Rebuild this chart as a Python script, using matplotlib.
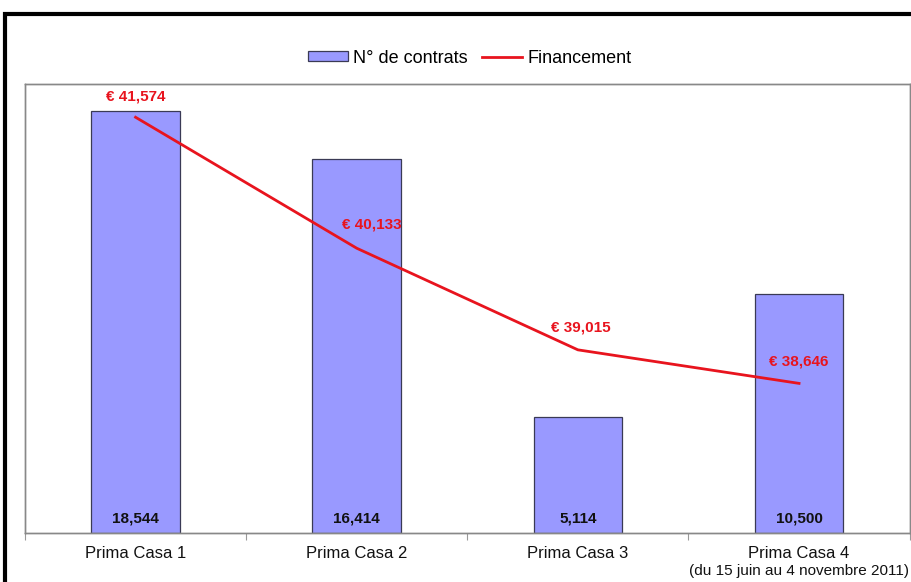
import matplotlib.pyplot as plt
from matplotlib.patches import Rectangle
from matplotlib.lines import Line2D
from matplotlib.patches import Patch

plt.rcParams['font.family'] = ['Liberation Sans', 'DejaVu Sans']

# donnees
categories = ['Prima Casa 1', 'Prima Casa 2', 'Prima Casa 3', 'Prima Casa 4']
sous_titre = '(du 15 juin au 4 novembre 2011)'
contrats = [18544, 16414, 5114, 10500]
financement = [41574, 40133, 39015, 38646]
labels_contrats = ['18,544', '16,414', '5,114', '10,500']
labels_fin = ['€ 41,574', '€ 40,133', '€ 39,015', '€ 38,646']

fig = plt.figure(figsize=(9.12, 5.82), dpi=100)
ax = fig.add_axes([0.0274, 0.0842, 0.970, 0.7715])

x = range(len(categories))
ax.bar(x, contrats, width=0.4, color='#9999ff', edgecolor='#3a3a55', linewidth=0.9, zorder=2)
ax.set_ylim(0, 19730)
ax.set_xlim(-0.5, len(categories) - 0.5)
ax.set_yticks([])

for i, lab in enumerate(labels_contrats):
    ax.text(i, 615, lab, ha='center', va='center', fontsize=11, fontweight='bold', color='#111111', zorder=4)

# axe secondaire pour le financement
ax2 = ax.twinx()
ax2.plot(list(x), financement, color='#e8141e', linewidth=2, zorder=3)
ax2.set_ylim(37000, 41940)
ax2.set_yticks([])

offsets = [(0, 15), (11, 17), (2, 16), (0, 16)]
for i, lab in enumerate(labels_fin):
    ax2.annotate(lab, (i, financement[i]), xytext=offsets[i], textcoords='offset points',
                 ha='center', va='center', fontsize=11, fontweight='bold', color='#e8141e')

# ticks aux frontieres des categories
ax.set_xticks([i - 0.5 for i in range(len(categories) + 1)], minor=False)
ax.set_xticklabels([])
ax.tick_params(axis='x', length=5, color='#999999')
for i, c in enumerate(categories):
    ax.text(i, -0.045, c, transform=ax.get_xaxis_transform(), ha='center', va='center',
            fontsize=12, color='#111111')
ax.text(len(categories) - 1, -0.085, sous_titre, transform=ax.get_xaxis_transform(),
        ha='center', va='center', fontsize=11, color='#111111')

for a in (ax, ax2):
    for s in a.spines.values():
        s.set_color('#888888')
        s.set_linewidth(1)

handles = [Patch(facecolor='#9999ff', edgecolor='#3a3a55', linewidth=0.9),
           Line2D([0], [0], color='#e8141e', linewidth=2)]
fig.legend(handles, ['N° de contrats', 'Financement'], loc='center', bbox_to_anchor=(0.515, 0.9),
           ncol=2, frameon=False, fontsize=13, handlelength=2.2, handleheight=0.5, columnspacing=0.8,
           handletextpad=0.3)

# cadre noir exterieur
fig.patches.append(Rectangle((5 / 912, -0.1), 1.2, (582 - 14) / 582 + 0.1, transform=fig.transFigure,
                             fill=False, edgecolor='black', linewidth=3, clip_on=False))

fig.savefig('out.png', dpi=100)
